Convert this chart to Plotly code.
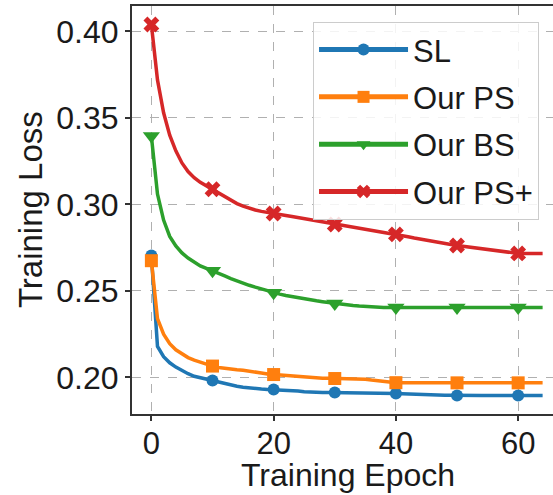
import plotly.graph_objects as go

epochs = list(range(65))

sl = [0.2705, 0.218, 0.212, 0.2085, 0.2060, 0.2040, 0.2022, 0.2007, 0.1998, 0.1990,
      0.1982, 0.1972, 0.1963, 0.1955, 0.1949, 0.1944, 0.1939, 0.1936, 0.1933, 0.1931,
      0.1930, 0.1928, 0.1926, 0.1925, 0.1922, 0.1918, 0.1915, 0.1914, 0.1913, 0.1913,
      0.1913, 0.1912, 0.1912, 0.1911, 0.1911, 0.1910, 0.1910, 0.1909, 0.1909, 0.1908,
      0.1908, 0.1906, 0.1904, 0.1902, 0.1901, 0.1900, 0.1899, 0.1898, 0.1897, 0.1897,
      0.1896, 0.1896, 0.1896, 0.1896, 0.1896, 0.1896, 0.1896, 0.1896, 0.1896, 0.1896,
      0.1896, 0.1896, 0.1896, 0.1896, 0.1896]

our_ps = [0.2675, 0.234, 0.225, 0.2195, 0.2160, 0.2135, 0.2115, 0.2100, 0.2087, 0.2076,
          0.2066, 0.2058, 0.2052, 0.2048, 0.2045, 0.2042, 0.2038, 0.2032, 0.2026, 0.2020,
          0.2017, 0.2015, 0.2013, 0.2010, 0.2005, 0.2000, 0.1998, 0.1996, 0.1995, 0.1995,
          0.1994, 0.1994, 0.1993, 0.1993, 0.1992, 0.1990, 0.1985, 0.1980, 0.1975, 0.1972,
          0.1970, 0.1970, 0.1970, 0.1970, 0.1970, 0.1969, 0.1969, 0.1969, 0.1969, 0.1969,
          0.1969, 0.1969, 0.1969, 0.1969, 0.1969, 0.1969, 0.1969, 0.1969, 0.1969, 0.1969,
          0.1969, 0.1969, 0.1969, 0.1969, 0.1969]

our_bs = [0.3395, 0.306, 0.291, 0.2815, 0.2760, 0.2720, 0.2690, 0.2665, 0.2645, 0.2630,
          0.2617, 0.2603, 0.2587, 0.2572, 0.2558, 0.2545, 0.2533, 0.2522, 0.2511, 0.2500,
          0.2490, 0.2482, 0.2474, 0.2467, 0.2460, 0.2454, 0.2448, 0.2443, 0.2438, 0.2433,
          0.2428, 0.2424, 0.2420, 0.2416, 0.2413, 0.2410, 0.2408, 0.2406, 0.2405, 0.2405,
          0.2405, 0.2405, 0.2405, 0.2405, 0.2405, 0.2405, 0.2405, 0.2405, 0.2405, 0.2405,
          0.2405, 0.2405, 0.2405, 0.2405, 0.2405, 0.2405, 0.2405, 0.2405, 0.2405, 0.2405,
          0.2405, 0.2405, 0.2405, 0.2405, 0.2405]

our_ps_plus = [0.404, 0.372, 0.353, 0.340, 0.3310, 0.3240, 0.3190, 0.3155, 0.3128, 0.3107,
               0.3088, 0.3065, 0.3043, 0.3022, 0.3005, 0.2990, 0.2978, 0.2968, 0.2960, 0.2953,
               0.2948, 0.2942, 0.2936, 0.2930, 0.2924, 0.2918, 0.2911, 0.2904, 0.2896, 0.2890,
               0.2884, 0.2879, 0.2874, 0.2869, 0.2864, 0.2859, 0.2853, 0.2847, 0.2840, 0.2834,
               0.2827, 0.2820, 0.2813, 0.2806, 0.2799, 0.2793, 0.2787, 0.2781, 0.2775, 0.2769,
               0.2763, 0.2758, 0.2753, 0.2748, 0.2743, 0.2738, 0.2733, 0.2728, 0.2723, 0.2719,
               0.2717, 0.2717, 0.2717, 0.2717, 0.2717]

series_names = ["SL", "Our PS", "Our BS", "Our PS+"]
series_values = [sl, our_ps, our_bs, our_ps_plus]
colors = ["#1f77b4", "#ff7f0e", "#2ca02c", "#d62728"]
symbols = ["circle", "square", "triangle-down", "x"]
marker_sizes = [12, 13, 15, 14]

x_ticks = [0, 20, 40, 60]
y_ticks = [0.20, 0.25, 0.30, 0.35, 0.40]

FONT = "Liberation Sans, Arial, sans-serif"
TXT = "#1a1a1a"

fig = go.Figure()
for name, vals, col, sym, ms in zip(series_names, series_values, colors, symbols, marker_sizes):
    sizes = [ms if e % 10 == 0 else 0 for e in epochs]
    fig.add_trace(go.Scatter(
        x=epochs, y=vals, name=name, mode="lines+markers",
        line=dict(color=col, width=3.5),
        marker=dict(symbol=sym, size=sizes, color=col, opacity=1, line=dict(width=0)),
        legendgroup=name,
    ))

axis_common = dict(
    showline=True, linecolor="#333333", linewidth=2,
    ticks="outside", ticklen=5, tickwidth=1.5, tickcolor="#333333",
    showgrid=True, gridcolor="#b0b0b0", gridwidth=1, griddash="dash",
    zeroline=False,
)

fig.update_layout(
    width=553, height=495,
    margin=dict(l=132, r=0, t=6, b=81),
    paper_bgcolor="white", plot_bgcolor="white",
    font=dict(family=FONT, color=TXT),
    xaxis=dict(range=[-3.17, 65.7], tickvals=x_ticks, mirror=True, ticklabelstandoff=-4,
               tickfont=dict(family=FONT, size=31, color=TXT), **axis_common),
    yaxis=dict(range=[0.1789, 0.4147], tickvals=y_ticks, tickformat=".2f",
               tickfont=dict(family=FONT, size=32, color=TXT), **axis_common),
    legend=dict(
        x=0.43, y=0.961, xanchor="left", yanchor="top",
        bgcolor="rgba(255,255,255,0.85)", bordercolor="#cccccc", borderwidth=1,
        font=dict(family=FONT, size=31, color=TXT),
        traceorder="grouped", tracegroupgap=4,
        itemwidth=89, itemsizing="constant",
    ),
    annotations=[
        dict(text="Training Epoch", xref="paper", yref="paper", x=0.514, y=-0.1975,
             xanchor="center", yanchor="bottom", showarrow=False,
             font=dict(family=FONT, size=32, color=TXT)),
        dict(text="Training Loss", xref="paper", yref="paper", x=-0.242, y=0.5,
             xanchor="center", yanchor="middle", showarrow=False, textangle=-90,
             font=dict(family=FONT, size=33, color=TXT)),
    ],
    showlegend=True,
)

fig.write_html("out.html", config={"displayModeBar": False},
               post_script="document.body.style.margin='0px';")
